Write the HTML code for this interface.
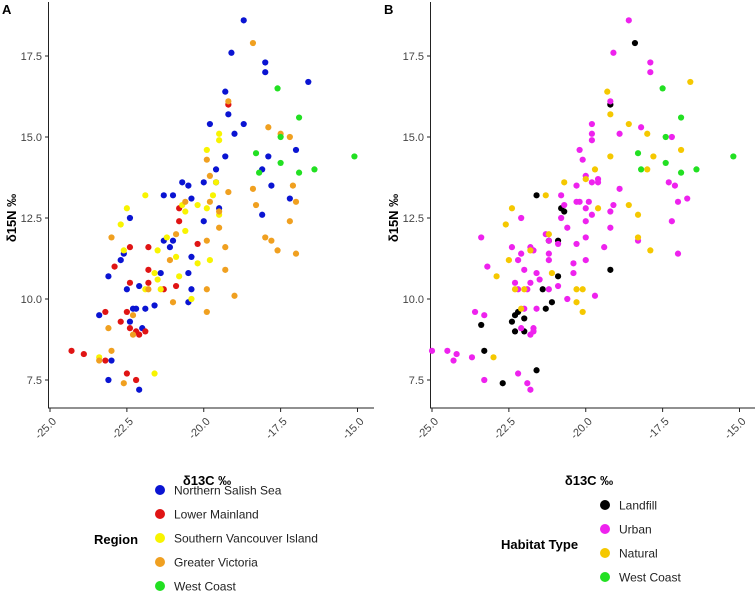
<!DOCTYPE html>
<html><head><meta charset="utf-8"><style>
body{margin:0;background:#fff;}
svg{display:block;font-family:"Liberation Sans",sans-serif;}
</style></head><body>
<svg id="chart" width="755" height="592" viewBox="0 0 755 592"></svg>
<script>
// Tick values
const xTicks = [-25, -22.5, -20, -17.5, -15];
const yTicks = [7.5, 10, 12.5, 15, 17.5];
const xTickLabels = ["-25.0", "-22.5", "-20.0", "-17.5", "-15.0"];
const yTickLabels = ["7.5", "10.0", "12.5", "15.0", "17.5"];

// Panel A data (d13C, d15N) by region
const regionNames = ["Northern Salish Sea","Lower Mainland","Southern Vancouver Island","Greater Victoria","West Coast"];
const regionColors = ["#0a14d2","#e01414","#f8f400","#f0a020","#22e022"];
const aX = [
[-18.7,-19.1,-18.0,-18.0,-16.6,-19.3,-19.2,-18.7,-19.8,-19.0,-19.3,-17.9,-17.0,-19.6,-18.1,-17.8,-17.2,-20.0,-19.6,-20.5,-20.7,-21.3,-21.0,-20.4,-20.0,-19.5,-18.1,-22.4,-21.3,-21.0,-21.1,-20.4,-22.6,-22.7,-23.1,-21.4,-20.5,-20.4,-22.5,-22.1,-22.3,-22.2,-21.9,-21.6,-20.5,-22.4,-23.4,-22.0,-23.0,-23.1,-22.1],
[-19.2,-20.8,-20.8,-20.2,-22.4,-21.8,-22.9,-21.8,-22.4,-21.8,-21.3,-20.9,-23.2,-22.5,-22.7,-22.4,-22.2,-22.1,-21.9,-24.3,-23.9,-23.2,-22.5,-22.2],
[-19.5,-19.5,-19.9,-19.6,-19.7,-20.2,-20.7,-19.9,-21.9,-22.5,-22.7,-20.6,-19.5,-20.6,-21.2,-21.5,-22.6,-20.9,-20.2,-19.8,-21.6,-21.5,-20.8,-21.4,-21.9,-20.4,-23.4,-21.6],
[-19.2,-18.4,-17.9,-17.5,-17.2,-19.9,-19.8,-18.4,-19.2,-18.3,-19.8,-20.6,-17.1,-17.0,-17.2,-19.5,-19.5,-19.9,-18.0,-17.8,-17.6,-17.0,-19.3,-19.3,-19.0,-19.9,-19.9,-21.0,-21.1,-20.9,-23.0,-21.8,-22.3,-22.3,-23.1,-23.0,-23.4,-22.6],
[-17.6,-16.9,-17.5,-18.3,-17.5,-18.2,-16.9,-16.4,-15.1]
];
const aY = [
[18.6,17.6,17.3,17.0,16.7,16.4,15.7,15.4,15.4,15.1,14.4,14.4,14.6,14.0,14.0,13.5,13.1,13.6,13.6,13.5,13.6,13.2,13.2,13.1,12.4,12.8,12.6,12.5,11.8,11.8,11.6,11.3,11.4,11.2,10.7,10.8,10.8,10.3,10.3,10.4,9.7,9.7,9.7,9.8,9.9,9.3,9.5,9.1,8.1,7.5,7.2],
[16.0,12.8,12.4,11.7,11.6,11.6,11.0,10.9,10.5,10.5,10.3,10.4,9.6,9.6,9.3,9.1,9.0,8.9,9.0,8.4,8.3,8.1,7.7,7.5],
[15.1,14.9,14.6,13.6,13.2,12.9,12.9,12.8,13.2,12.8,12.3,12.7,12.6,12.1,11.9,11.5,11.5,11.3,11.1,11.2,10.8,10.6,10.7,10.3,10.3,10.0,8.2,7.7],
[16.1,17.9,15.3,15.1,15.0,14.3,13.8,13.4,13.3,12.9,13.0,13.0,13.5,13.0,12.4,12.7,12.2,11.8,11.9,11.8,11.5,11.4,11.6,10.9,10.1,10.3,9.6,9.9,11.2,12.0,11.9,10.3,9.5,8.9,9.1,8.4,8.1,7.4],
[16.5,15.6,15.0,14.5,14.2,13.9,13.9,14.0,14.4]
];

// Panel B data (d13C, d15N) by habitat
const habitatNames = ["Landfill","Urban","Natural","West Coast"];
const habitatColors = ["#000000","#ee22ee","#f5c800","#22e022"];
const bX = [
[-18.4,-19.2,-21.6,-20.8,-20.7,-21.2,-20.9,-19.2,-20.9,-21.4,-21.1,-21.3,-22.2,-22.3,-22.4,-22.0,-22.0,-22.3,-23.4,-23.3,-21.6,-22.7],
[-18.6,-19.1,-17.9,-17.9,-19.2,-19.8,-18.2,-18.9,-17.2,-19.8,-19.8,-20.2,-20.1,-20.0,-19.8,-19.6,-18.9,-19.6,-17.3,-17.1,-16.7,-17.0,-20.3,-20.8,-20.2,-20.3,-20.0,-19.9,-20.7,-19.8,-20.0,-19.2,-17.2,-19.1,-19.2,-20.0,-18.3,-17.0,-19.4,-20.3,-20.8,-20.6,-21.3,-22.1,-23.4,-22.4,-21.8,-22.1,-22.2,-21.2,-20.9,-21.7,-21.2,-20.4,-20.0,-23.2,-22.0,-21.2,-21.6,-20.4,-21.5,-22.3,-21.8,-22.2,-21.9,-21.2,-20.9,-20.6,-19.7,-23.6,-23.3,-21.6,-22.0,-21.7,-21.7,-22.1,-21.8,-25.0,-24.5,-24.2,-24.3,-23.7,-23.3,-22.2,-21.9,-21.8],
[-19.3,-19.2,-18.6,-18.0,-17.8,-19.2,-16.9,-18.0,-19.7,-16.6,-20.0,-20.7,-21.3,-18.6,-19.6,-18.3,-21.2,-21.8,-22.5,-22.4,-22.6,-18.3,-17.9,-21.1,-20.3,-20.1,-20.3,-20.1,-22.1,-22.3,-22.0,-22.9,-23.0],
[-17.5,-16.9,-17.4,-18.3,-17.4,-18.2,-16.9,-16.4,-15.2]
];
const bY = [
[17.9,16.0,13.2,12.8,12.7,11.8,11.8,10.9,10.7,10.3,9.9,9.7,9.6,9.5,9.3,9.4,9.0,9.0,9.2,8.4,7.8,7.4],
[18.6,17.6,17.3,17.0,16.1,15.4,15.3,15.1,15.0,15.1,14.9,14.6,14.3,13.8,13.6,13.7,13.4,13.6,13.6,13.5,13.1,13.0,13.5,13.2,13.0,13.0,12.8,13.0,12.9,12.6,12.4,12.7,12.4,12.9,12.2,11.9,11.8,11.4,11.6,11.7,12.5,12.2,12.0,12.5,11.9,11.6,11.6,11.4,11.2,11.8,11.7,11.5,11.4,11.1,11.2,11.0,10.9,11.2,10.8,10.8,10.6,10.5,10.5,10.3,10.3,10.3,10.4,10.0,10.1,9.6,9.5,9.7,9.7,9.1,9.0,9.1,8.9,8.4,8.4,8.3,8.1,8.2,7.5,7.7,7.4,7.2],
[16.4,15.7,15.4,15.1,14.4,14.4,14.6,14.0,14.0,16.7,13.7,13.6,13.2,12.9,12.8,12.6,12.0,11.5,11.2,12.8,12.3,11.9,11.5,10.8,10.3,10.3,9.9,9.6,9.7,10.3,10.3,10.7,8.2],
[16.5,15.6,15.0,14.5,14.2,14.0,13.9,14.0,14.4]
];

const NS = "http://www.w3.org/2000/svg";
const svg = document.getElementById("chart");
function mk(tag, attrs, parent){const e=document.createElementNS(NS,tag);for(const k in attrs)e.setAttribute(k,attrs[k]);(parent||svg).appendChild(e);return e;}

function panel(x0, letter, xsArr, ysArr, colors, names, legendTitle, legX, legY0, titleX, titleY){
  const g = mk("g",{});
  
  
  const sx = v => x0 + (v + 25) * 30.75;
  const sy = v => 56 + (17.5 - v) * 32.4;
  const L = mk("text",{x:x0-48,y:14,"font-size":13,"font-weight":"bold",fill:"#000"},g); L.textContent=letter;
  
  
  const ax = mk("path",{d:`M${x0-1.5},2 V${408} H${x0+324}`,stroke:"#222",fill:"none","stroke-width":1},g);
  
  
  yTicks.forEach((v,i)=>{
    mk("line",{x1:x0-5,x2:x0-1.5,y1:sy(v),y2:sy(v),stroke:"#222"},g);
    const t=mk("text",{x:x0-8,y:sy(v)+4,"text-anchor":"end","font-size":11,fill:"#444"},g);
    t.textContent=yTickLabels[i];
    
    
  });
  xTicks.forEach((v,i)=>{
    mk("line",{x1:sx(v),x2:sx(v),y1:408,y2:412,stroke:"#222"},g);
    const ax0=sx(v)+7, ay0=422;
    const t=mk("text",{x:ax0,y:ay0,"text-anchor":"end","font-size":11,fill:"#444",transform:`rotate(-45 ${ax0} ${ay0})`},g);
    t.textContent=xTickLabels[i];
    
    
  });
  const xt=mk("text",{x:x0+157,y:485,"text-anchor":"middle","font-size":13,"font-weight":"bold"},g);
  xt.textContent="δ13C ‰";
  
  
  const yt=mk("text",{x:x0-34,y:218,"text-anchor":"middle","font-size":13,"font-weight":"bold",transform:`rotate(-90 ${x0-34} 218)`},g);
  yt.textContent="δ15N ‰";
  
  
  xsArr.forEach((xs,k)=>{
    xs.forEach((v,i)=>{
      const c=mk("circle",{cx:sx(v),cy:sy(ysArr[k][i]),r:3.1,fill:colors[k]},g);
      
      
    });
  });
  const lt=mk("text",{x:titleX,y:titleY,"font-size":13,"font-weight":"bold"},g);
  lt.textContent=legendTitle;
  
  
  names.forEach((n,i)=>{
    const y=legY0+i*24;
    const c=mk("circle",{cx:legX,cy:y,r:5,fill:colors[i]},g);
    
    
    const t=mk("text",{x:legX+14,y:y+4.5,"font-size":12,fill:"#222"},g);
    t.textContent=n;
    
    
  });
}
panel(50,"A",aX,aY,regionColors,regionNames,"Region",160,490,94,544);
panel(432,"B",bX,bY,habitatColors,habitatNames,"Habitat Type",605,505,501,549);
</script>
</body></html>
